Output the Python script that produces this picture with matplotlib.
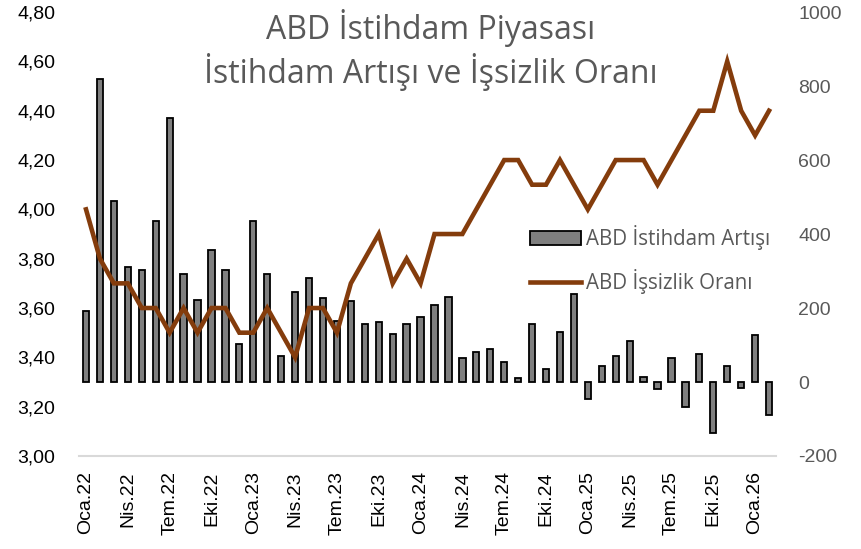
import numpy as np
import matplotlib
matplotlib.use('Agg')
import matplotlib.pyplot as plt
from matplotlib.ticker import FuncFormatter

# Monthly data, Jan 2022 - Feb 2026
months = ['Oca', 'Şub', 'Mar', 'Nis', 'May', 'Haz', 'Tem', 'Ağu', 'Eyl', 'Eki', 'Kas', 'Ara']
years = ['22', '23', '24', '25', '26']
labels = [m + '.' + y for y in years for m in months][:50]

# ABD Istihdam Artisi (bin kisi), right axis
payrolls = [191, 819, 490, 310, 302, 435, 714, 292, 222, 358, 304, 102,
            435, 292, 70, 243, 282, 227, 164, 220, 158, 161, 130, 157,
            176, 208, 229, 66, 80, 89, 55, 12, 157, 34, 135, 239,
            -46, 44, 69, 110, 14, -18, 65, -68, 77, -138, 42, -15,
            128, -90]

# ABD Issizlik Orani (%), left axis
unemployment = [4.0, 3.8, 3.7, 3.7, 3.6, 3.6, 3.5, 3.6, 3.5, 3.6, 3.6, 3.5,
                3.5, 3.6, 3.5, 3.4, 3.6, 3.6, 3.5, 3.7, 3.8, 3.9, 3.7, 3.8,
                3.7, 3.9, 3.9, 3.9, 4.0, 4.1, 4.2, 4.2, 4.1, 4.1, 4.2, 4.1,
                4.0, 4.1, 4.2, 4.2, 4.2, 4.1, 4.2, 4.3, 4.4, 4.4, 4.6, 4.4,
                4.3, 4.4]

x = np.arange(len(labels))

fig = plt.figure(figsize=(8.61, 5.49), dpi=100)
ax = fig.add_axes([0.0918, 0.1694, 0.8095, 0.8086])
ax2 = ax.twinx()

# bars on secondary axis, drawn below the line
ax2.bar(x, payrolls, width=0.45, color='#7f7f7f', edgecolor='black', linewidth=1.3,
        label='ABD İstihdam Artışı', zorder=2)
ax2.set_ylim(-200, 1000)
ax2.set_yticks(range(-200, 1001, 200))
ax2.yaxis.set_major_formatter(FuncFormatter(lambda v, p: f'{int(v)}'))

ax.plot(x, unemployment, color='#843C0C', linewidth=3.3, solid_joinstyle='miter',
        label='ABD İşsizlik Oranı', zorder=3)
ax.set_ylim(3.0, 4.8)
ax.set_yticks(np.arange(3.0, 4.81, 0.2))
ax.yaxis.set_major_formatter(FuncFormatter(lambda v, p: f'{v:.2f}'.replace('.', ',')))

# line above bars
ax.set_zorder(ax2.get_zorder() + 1)
ax.patch.set_visible(False)

ax.set_xlim(-0.5, len(labels) - 0.5)
ax.set_xticks(x[::3])
ax.set_xticklabels(labels[::3], rotation=90, fontsize=14, family='Liberation Sans', color='black')

for a in (ax, ax2):
    for s in a.spines.values():
        s.set_visible(False)
    a.tick_params(length=0)
ax.spines['bottom'].set_visible(True)
ax.spines['bottom'].set_color('#d9d9d9')
ax.spines['bottom'].set_linewidth(1.5)

ax.tick_params(axis='x', pad=11)
ax.tick_params(axis='y', pad=17, labelsize=14, labelcolor='black')
ax2.tick_params(axis='y', pad=16, labelsize=14, labelcolor='#595959')
for t in ax.get_yticklabels() + ax2.get_yticklabels():
    t.set_family('Liberation Sans')

fig.text(0.5, 0.984, 'ABD İstihdam Piyasası\nİstihdam Artışı ve İşsizlik Oranı',
         ha='center', va='top', fontsize=23, color='#595959', family='Open Sans',
         linespacing=1.22)

h1, l1 = ax2.get_legend_handles_labels()
h2, l2 = ax.get_legend_handles_labels()
leg = fig.legend(h1 + h2, l1 + l2, loc='upper left', bbox_to_anchor=(0.594, 0.623),
                 frameon=False, handlelength=2.5, handleheight=0.7, handletextpad=0.25,
                 labelspacing=0.9, prop={'family': 'Open Sans', 'size': 14.8})
for t in leg.get_texts():
    t.set_color('#595959')

fig.savefig('out.png', dpi=100)
